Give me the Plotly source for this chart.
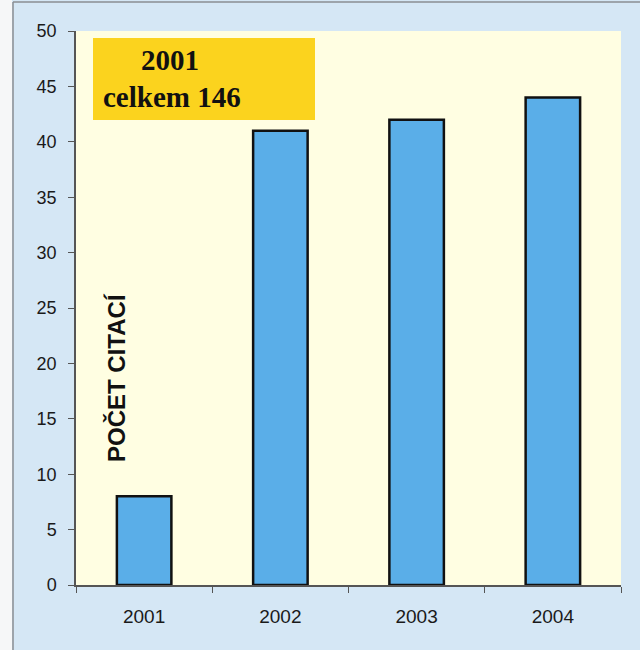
import plotly.graph_objects as go

# Citation counts per year
years = ["2001", "2002", "2003", "2004"]
citations = [8, 41, 42, 44]
y_ticks = [0, 5, 10, 15, 20, 25, 30, 35, 40, 45, 50]

W, H = 640, 650
L, R, T, B = 76, 19, 31, 65
pw, ph = W - L - R, H - T - B


def px_x(p):
    return (p - L) / pw


def px_y(p):
    return (H - B - p) / ph


fig = go.Figure()
fig.add_trace(go.Bar(
    x=years, y=citations, width=0.4,
    marker=dict(color="#5aaee8", line=dict(color="#111111", width=2.5)),
    hoverinfo="skip",
))

shapes = [
    # white strip on the left with a grey border
    dict(type="rect", xref="paper", yref="paper", x0=px_x(0), x1=px_x(12),
         y0=px_y(H), y1=px_y(0), fillcolor="#f6f7f8", line=dict(width=0), layer="below"),
    dict(type="line", xref="paper", yref="paper", x0=px_x(13), x1=px_x(13),
         y0=px_y(H), y1=px_y(2), line=dict(color="#8a8e92", width=1.5)),
    dict(type="line", xref="paper", yref="paper", x0=px_x(13), x1=px_x(W),
         y0=px_y(2), y1=px_y(2), line=dict(color="#8a8e92", width=1.5)),
    # yellow caption box
    dict(type="rect", xref="paper", yref="paper", x0=px_x(93), x1=px_x(315),
         y0=px_y(120), y1=px_y(38), fillcolor="#fbd31e", line=dict(width=0), layer="below"),
]

annotations = [
    dict(text="<b>2001</b>", xref="paper", yref="paper", x=px_x(170), y=px_y(60),
         xanchor="center", yanchor="middle", showarrow=False,
         font=dict(family="Liberation Serif", size=29, color="#111111")),
    dict(text="<b>celkem 146</b>", xref="paper", yref="paper", x=px_x(172), y=px_y(97),
         xanchor="center", yanchor="middle", showarrow=False,
         font=dict(family="Liberation Serif", size=29, color="#111111")),
    dict(text="<b>POČET CITACÍ</b>", xref="paper", yref="paper", x=px_x(116), y=px_y(378),
         xanchor="center", yanchor="middle", showarrow=False, textangle=-90,
         font=dict(family="Liberation Sans", size=24, color="#111111")),
]

fig.update_layout(
    width=W, height=H,
    margin=dict(l=L, r=R, t=T, b=B, pad=0),
    paper_bgcolor="#d5e7f5",
    plot_bgcolor="#fffee2",
    showlegend=False,
    shapes=shapes,
    annotations=annotations,
    font=dict(family="Liberation Sans", size=18, color="#1a1a1a"),
    xaxis=dict(
        type="category", showgrid=False, showline=True, linecolor="#555555", linewidth=1.5,
        ticks="outside", tickson="boundaries", ticklen=6, tickcolor="#555555",
        tickfont=dict(size=19, color="#1a1a1a"), ticklabelstandoff=13,
    ),
    yaxis=dict(
        range=[0, 50], tickvals=y_ticks, showgrid=False, zeroline=False,
        showline=True, linecolor="#555555", linewidth=1.5,
        ticks="outside", ticklen=6, tickcolor="#555555",
        tickfont=dict(size=18, color="#1a1a1a"), ticklabelstandoff=8,
    ),
    bargap=0.6,
)

fig.write_html("out.html")
